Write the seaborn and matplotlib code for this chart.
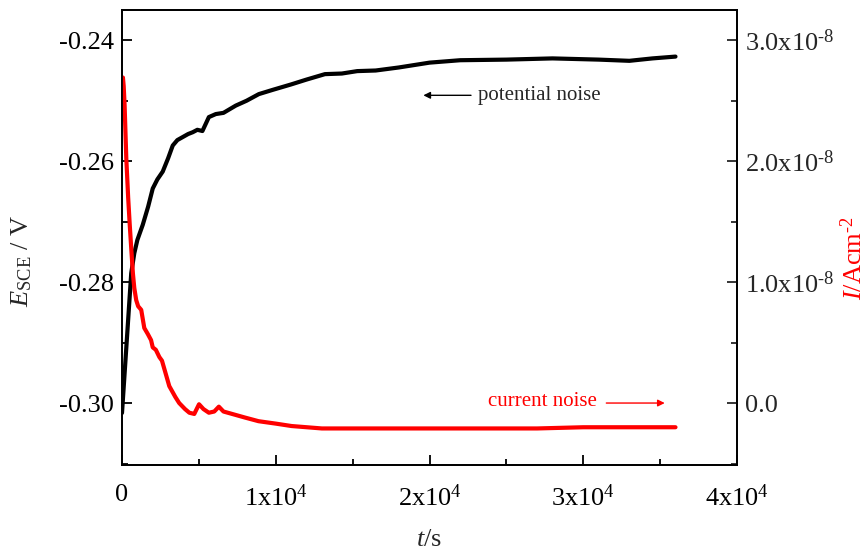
import matplotlib
matplotlib.use("Agg")
import matplotlib.pyplot as plt
from matplotlib.ticker import MultipleLocator
import seaborn as sns
import pandas as pd

# ---- data ----
t_pot = [0, 200, 400, 600, 800, 1000, 1350, 1700, 2000, 2300, 2650, 3000, 3300,
         3600, 3950, 4300, 4600, 4900, 5230, 5450, 5650, 6100, 6600, 7400, 8100,
         8900, 9800, 11000, 12000, 13200, 14300, 15300, 16500, 18000, 20000,
         22000, 25000, 28000, 31000, 33000, 34500, 36000]
E_pot = [-0.3016, -0.2939, -0.2862, -0.2785, -0.2752, -0.2730, -0.2705, -0.2675,
         -0.2645, -0.2630, -0.2617, -0.2595, -0.2574, -0.2565, -0.2560, -0.2555,
         -0.2552, -0.2548, -0.2550, -0.2538, -0.2527, -0.2522, -0.2520, -0.2508,
         -0.2500, -0.2489, -0.2482, -0.2473, -0.2465, -0.2456, -0.2455, -0.2451,
         -0.2450, -0.2445, -0.2437, -0.2433, -0.2432, -0.2430, -0.2432, -0.2434,
         -0.2430, -0.2427]

t_cur = [0, 60, 110, 170, 280, 400, 500, 600, 710, 800, 925, 1050, 1250, 1450,
         1680, 1890, 2000, 2200, 2430, 2600, 3075, 3470, 3720, 4100, 4380, 4700,
         5010, 5300, 5650, 6000, 6300, 6600, 7160, 8000, 8880, 10000, 11030,
         13000, 15330, 18000, 21000, 24000, 27000, 30000, 33000, 36000]
I_cur_e8 = [2.50, 2.69, 2.62, 2.46, 2.02, 1.70, 1.48, 1.28, 1.07, 0.95, 0.85,
            0.80, 0.77, 0.62, 0.57, 0.52, 0.46, 0.44, 0.38, 0.35, 0.14, 0.05,
            0.00, -0.05, -0.08, -0.09, -0.01, -0.05, -0.08, -0.07, -0.03, -0.07,
            -0.09, -0.12, -0.15, -0.17, -0.19, -0.21, -0.21, -0.21, -0.21, -0.21,
            -0.21, -0.20, -0.20, -0.20]

x_ticks = [0, 10000, 20000, 30000, 40000]
x_ticklabels = ["0", r"1x10$^{4}$", r"2x10$^{4}$", r"3x10$^{4}$", r"4x10$^{4}$"]
left_ticks = [-0.30, -0.28, -0.26, -0.24]
left_ticklabels = ["-0.30", "-0.28", "-0.26", "-0.24"]
right_ticks = [0.0, 1.0e-8, 2.0e-8, 3.0e-8]
right_ticklabels = ["0.0", r"1.0x10$^{\text{-8}}$", r"2.0x10$^{\text{-8}}$",
                    r"3.0x10$^{\text{-8}}$"]

pot_df = pd.DataFrame({"t": t_pot, "E": E_pot})
cur_df = pd.DataFrame({"t": t_cur, "I": [v * 1e-8 for v in I_cur_e8]})

# ---- style ----
sns.set_theme(style="ticks")
plt.rcParams["font.family"] = ["Liberation Serif", "DejaVu Serif"]
plt.rcParams["mathtext.fontset"] = "custom"
plt.rcParams["mathtext.rm"] = "Liberation Serif"
plt.rcParams["mathtext.it"] = "Liberation Serif:italic"
plt.rcParams["mathtext.bf"] = "Liberation Serif:bold"
plt.rcParams["axes.unicode_minus"] = False

fig = plt.figure(figsize=(8.66, 5.51), dpi=100)
ax = fig.add_axes([122 / 866, 1 - 465 / 551, (737 - 122) / 866, (465 - 10) / 551])
ax2 = ax.twinx()

sns.lineplot(data=pot_df, x="t", y="E", ax=ax, color="black", lw=3,
             estimator=None, sort=True)
sns.lineplot(data=cur_df, x="t", y="I", ax=ax2, color="red", lw=3,
             estimator=None, sort=True)

ax.set_xlim(0, 40000)
ax.set_ylim(-0.3102, -0.2350)
ax2.set_ylim(-0.512e-8, 3.248e-8)

ax.set_xticks(x_ticks, x_ticklabels)
ax.set_yticks(left_ticks, left_ticklabels)
ax2.set_yticks(right_ticks, right_ticklabels)
ax.xaxis.set_minor_locator(MultipleLocator(5000))
ax.yaxis.set_minor_locator(MultipleLocator(0.01))
ax2.yaxis.set_minor_locator(MultipleLocator(0.5e-8))

fs = 19
for a in (ax, ax2):
    for sp in a.spines.values():
        sp.set_linewidth(1.3)
        sp.set_color("black")
ax.tick_params(which="both", direction="in", top=False, right=False,
               labelsize=fs, width=1.3, colors="black")
ax.tick_params(axis="y", pad=6)
ax.tick_params(axis="x", pad=14)
ax.tick_params(which="major", length=7)
ax.tick_params(which="minor", length=4)
ax2.tick_params(which="both", direction="in", labelsize=fs, width=1.3, pad=6)
ax2.tick_params(which="major", length=7)
ax2.tick_params(which="minor", length=4)

ax.set_xlabel(r"$t$/s", fontsize=19)
ax.xaxis.set_label_coords(0.5, -0.165)
ax.xaxis.label.set_va("center")
ax.set_ylabel(r"$E_{\rm SCE}$ / V", fontsize=19)
ax2.set_ylabel(r"$I$/Acm$^{\text{-2}}$", fontsize=19, color="red")
ax.yaxis.set_label_coords(-0.1626, 0.448)
ax.yaxis.label.set_va("center")
ax2.yaxis.set_label_coords(1.190, 0.455)
ax2.yaxis.label.set_va("center")

# annotations
ax.annotate("", xy=(19600, -0.2491), xytext=(22700, -0.2491),
            arrowprops=dict(arrowstyle="-|>", color="black", lw=1,
                            mutation_scale=10, shrinkA=0, shrinkB=0))
ax.text(23150, -0.2491, "potential noise", fontsize=15, ha="left", va="center")
ax2.annotate("", xy=(35300, 0.0), xytext=(31500, 0.0),
             arrowprops=dict(arrowstyle="-|>", color="red", lw=1,
                             mutation_scale=10, shrinkA=0, shrinkB=0))
ax2.text(23800, 0.01e-8, "current noise", fontsize=15, ha="left", va="center",
         color="red")

fig.savefig("out.png", dpi=100)
